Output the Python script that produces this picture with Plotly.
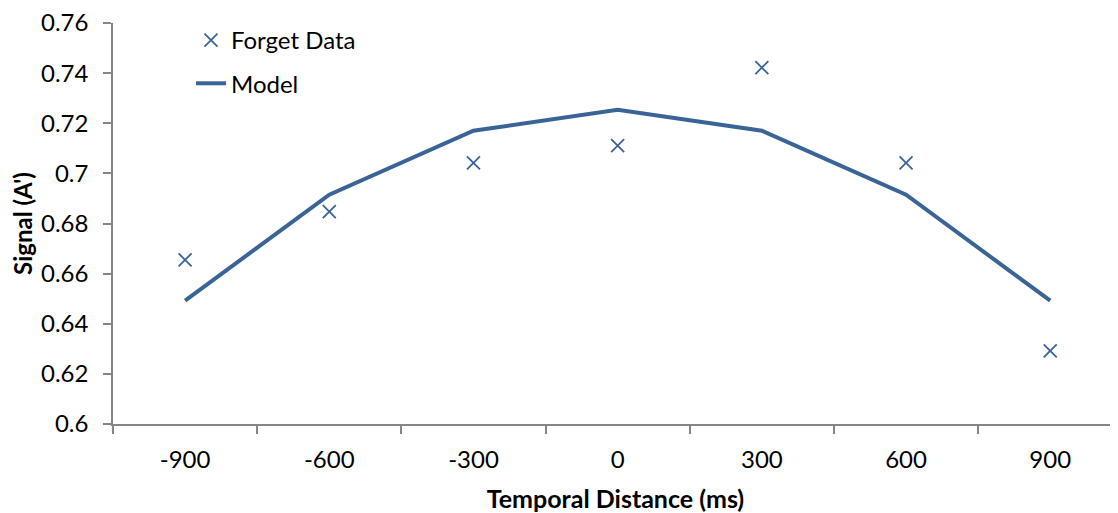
import plotly.graph_objects as go

categories = ["-900", "-600", "-300", "0", "300", "600", "900"]
forget_data = [0.6655, 0.6847, 0.7042, 0.7111, 0.7422, 0.7042, 0.6292]
model = [0.6492, 0.6915, 0.7170, 0.7254, 0.7170, 0.6915, 0.6492]
y_ticks = [0.6, 0.62, 0.64, 0.66, 0.68, 0.7, 0.72, 0.74, 0.76]
y_tick_labels = ["0.6", "0.62", "0.64", "0.66", "0.68", "0.7", "0.72", "0.74", "0.76"]

BLUE = "#3A6497"
AXIS = "#868686"
FONT = "Lato"

fig = go.Figure()
fig.add_trace(go.Scatter(
    x=categories, y=forget_data, mode="markers", name="Forget Data",
    legendgroup="a",
    marker=dict(symbol="x-thin-open", size=13, color=BLUE,
                line=dict(color=BLUE, width=1.8)),
))
fig.add_trace(go.Scatter(
    x=categories, y=model, mode="lines", name="Model",
    legendgroup="b",
    line=dict(color=BLUE, width=4),
))

fig.update_layout(
    width=1110, height=505,
    margin=dict(l=105, r=0, t=15, b=89),
    paper_bgcolor="white", plot_bgcolor="white",
    font=dict(family=FONT, size=24, color="#000000"),
    showlegend=True,
    legend=dict(x=0.0776, y=1.0125, xanchor="left", yanchor="top",
                bgcolor="rgba(0,0,0,0)", font=dict(size=24),
                traceorder="grouped", tracegroupgap=9),
    xaxis=dict(
        type="category", range=[-0.5, 6.47],
        showline=True, linecolor=AXIS, linewidth=1.5,
        ticks="outside", tickson="boundaries", ticklen=8,
        tickcolor=AXIS, tickwidth=1.5, showgrid=False, zeroline=False,
        ticklabelstandoff=13,
        title=dict(text="<b>Temporal Distance (ms)</b>", standoff=19,
                   font=dict(size=25)),
    ),
    yaxis=dict(
        range=[0.6, 0.76], tickmode="array",
        tickvals=y_ticks, ticktext=y_tick_labels,
        ticklabeloverflow="allow",
        showline=True, linecolor=AXIS, linewidth=1.5,
        ticks="outside", ticklen=8, tickcolor=AXIS, tickwidth=1.5,
        showgrid=False, zeroline=False, ticklabelstandoff=10,
        title=dict(text="<b>Signal (A')</b>", standoff=6,
                   font=dict(size=24)),
    ),
)

fig.write_html("out.html")
